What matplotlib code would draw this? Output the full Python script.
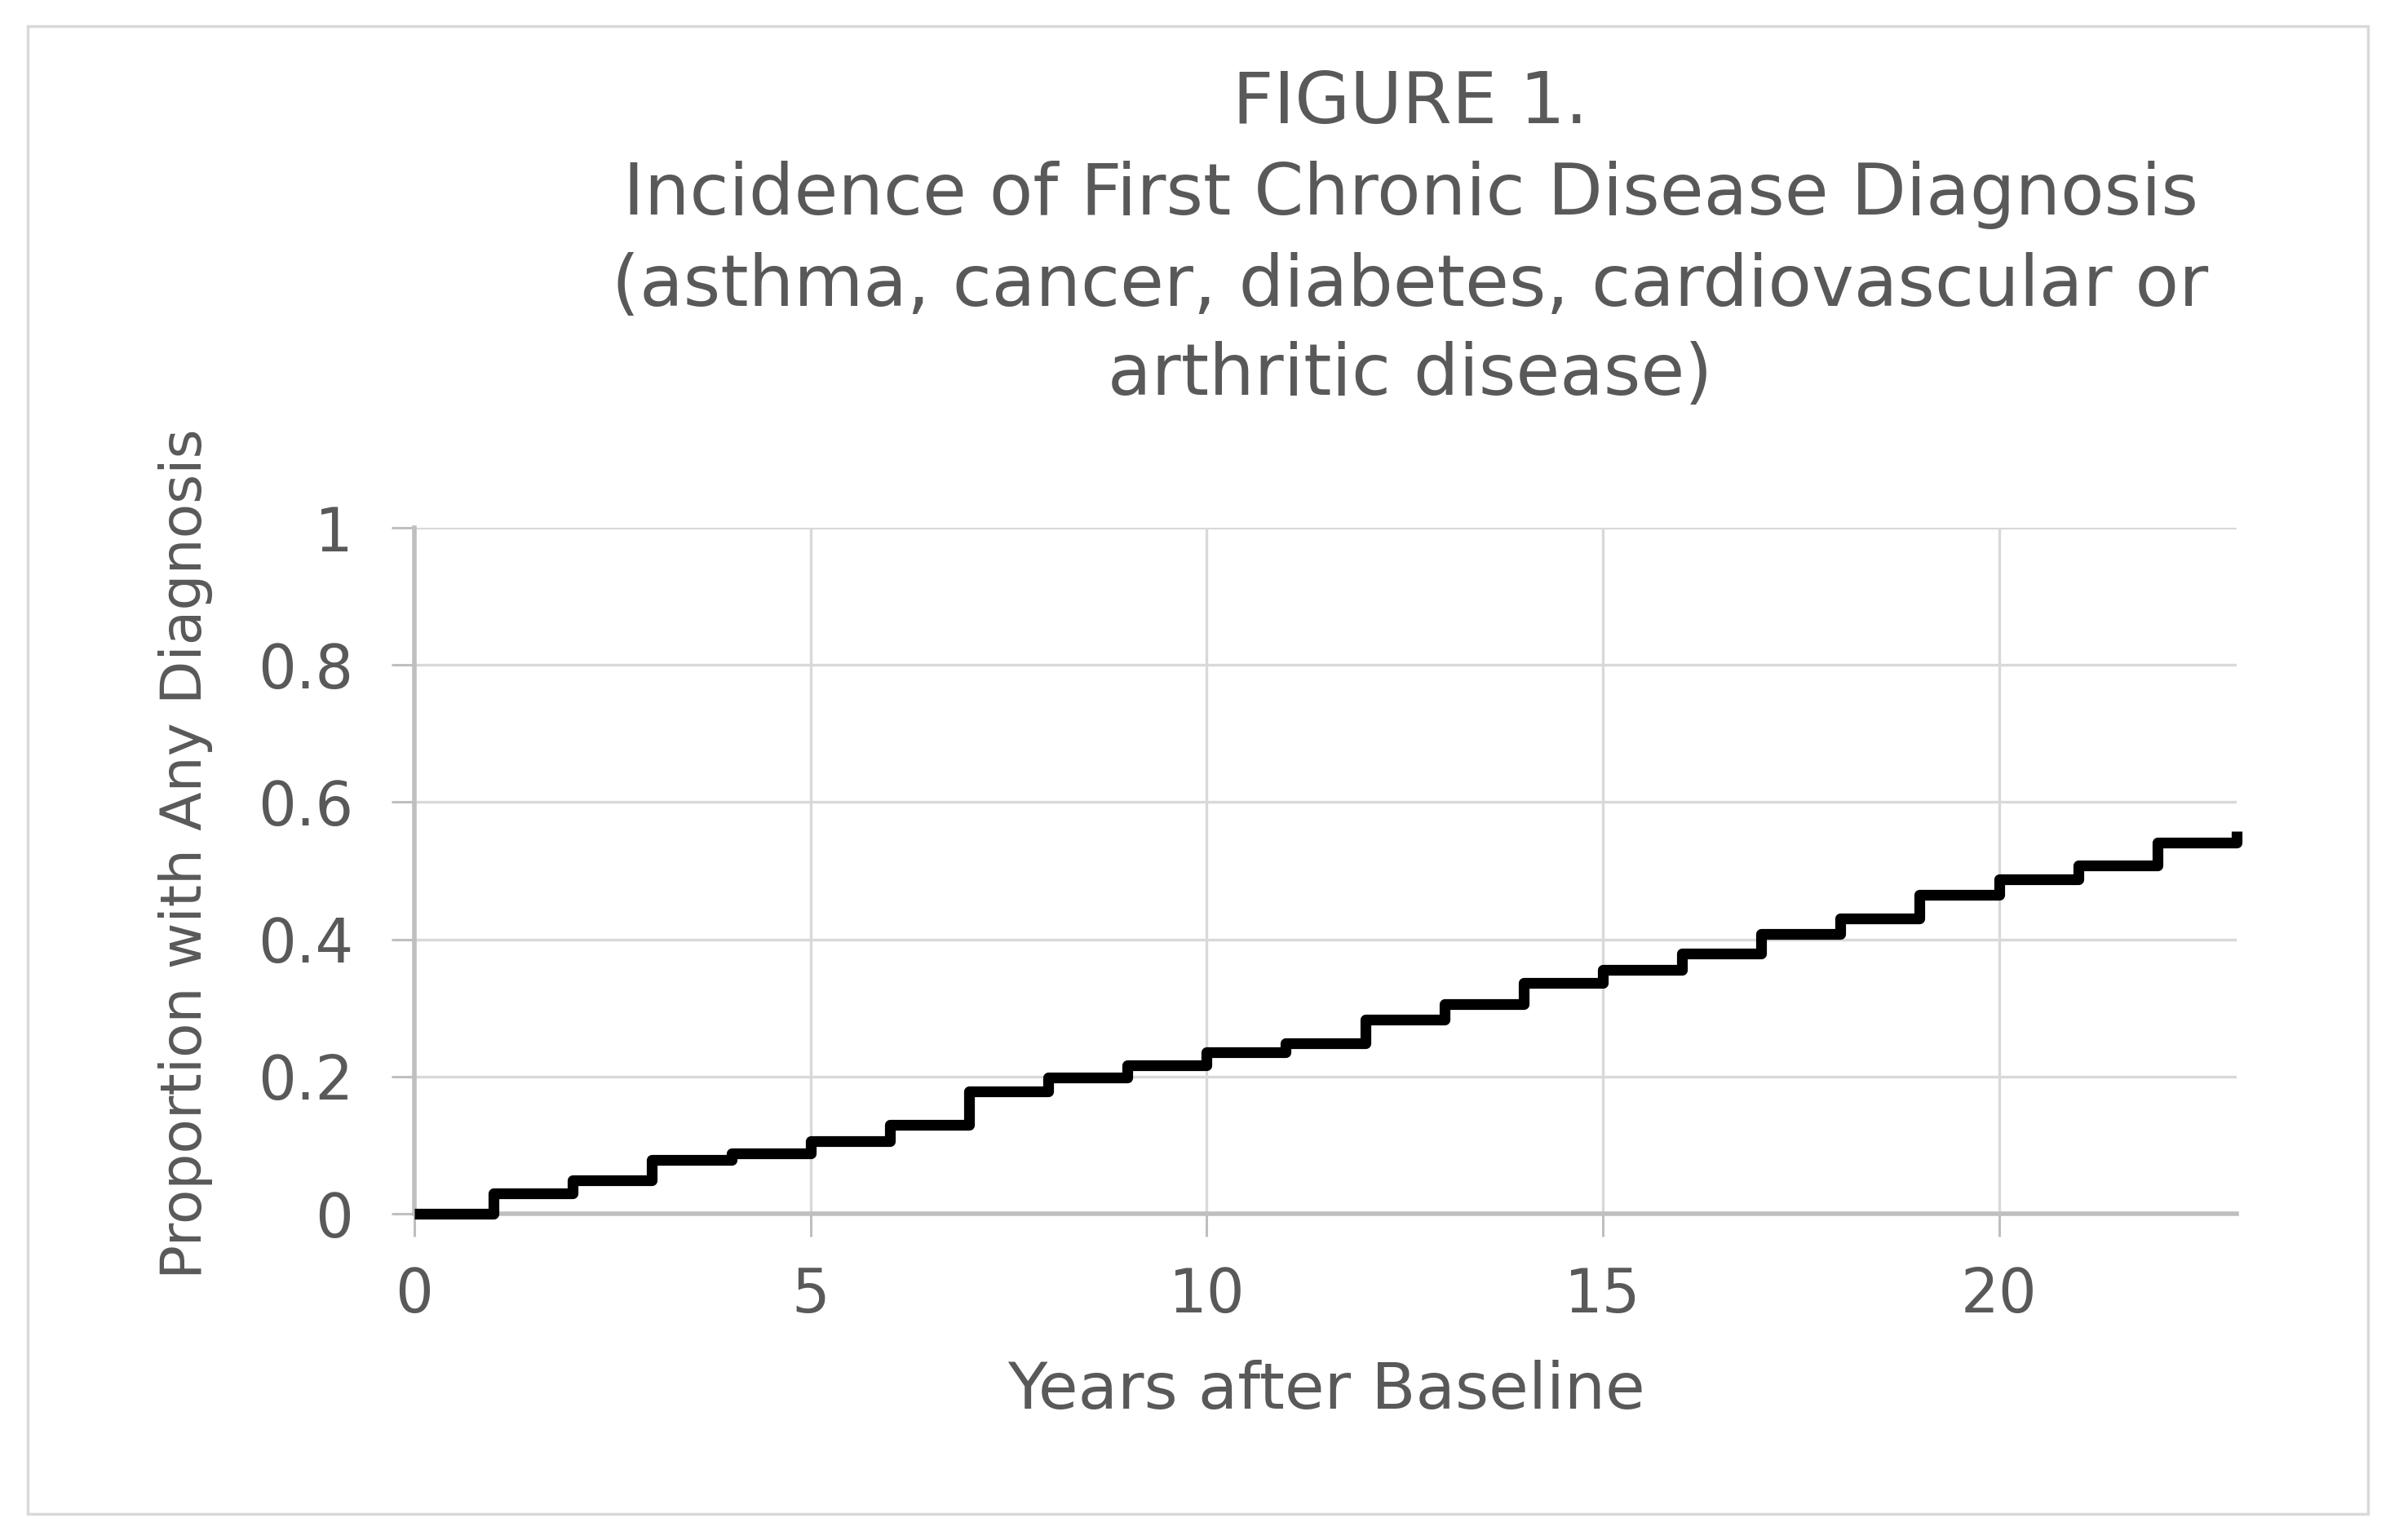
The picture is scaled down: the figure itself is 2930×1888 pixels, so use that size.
import matplotlib
matplotlib.use("Agg")
import matplotlib.pyplot as plt
from matplotlib.patches import Rectangle

# data (step curve, value held from each year to the next)
years = list(range(0, 24))
proportion = [0.000, 0.030, 0.049, 0.078, 0.088, 0.106, 0.130, 0.178,
              0.198, 0.217, 0.236, 0.249, 0.283, 0.306, 0.336, 0.355,
              0.379, 0.408, 0.431, 0.465, 0.488, 0.508, 0.541, 0.558]

title_lines = ["FIGURE 1.",
               "Incidence of First Chronic Disease Diagnosis",
               "(asthma, cancer, diabetes, cardiovascular or",
               "arthritic disease)"]
x_ticks = [0, 5, 10, 15, 20]
y_ticks = [0, 0.2, 0.4, 0.6, 0.8, 1]
y_tick_labels = ["0", "0.2", "0.4", "0.6", "0.8", "1"]

W, H = 2930, 1888
txt = "#595959"
plt.rcParams['font.family'] = ['DejaVu Sans']

fig = plt.figure(figsize=(W / 100, H / 100), dpi=100)
fig.patch.set_facecolor("white")

# outer frame
fig.patches.append(Rectangle((34 / W, 1 - 1856 / H), (2903 - 34) / W, (1856 - 32) / H,
                             transform=fig.transFigure, fill=False,
                             edgecolor="#d9d9d9", linewidth=2.5))

ax = fig.add_axes([508 / W, 1 - 1488 / H, (2742 - 508) / W, (1488 - 647) / H])
ax.step(years, proportion, where="post", color="black", linewidth=9.5,
        solid_joinstyle="round", solid_capstyle="butt", clip_on=False, zorder=3)

ax.set_xlim(0, 23)
ax.set_ylim(0, 1)
ax.set_xticks(x_ticks)
ax.set_yticks(y_ticks)
ax.set_yticklabels(y_tick_labels)
ax.grid(True, color="#d9d9d9", linewidth=2.4)
ax.set_axisbelow(True)
for s in ["top", "right"]:
    ax.spines[s].set_visible(False)
for s in ["left", "bottom"]:
    ax.spines[s].set_color("#bfbfbf")
    ax.spines[s].set_linewidth(4)
ax.tick_params(axis="both", colors="#bfbfbf", length=20, width=2.2, labelcolor=txt,
               labelsize=53)
ax.tick_params(axis="x", pad=26)
ax.tick_params(axis="y", pad=34)

for line, yc in zip(title_lines, [127, 239, 351, 460]):
    fig.text(1729 / W, 1 - yc / H, line, ha="center", va="center",
             fontsize=63, color=txt)

fig.text(1626 / W, 1 - 1705 / H, "Years after Baseline", ha="center", va="center",
         fontsize=57, color=txt)
fig.text(228 / W, 1 - 1047 / H, "Proportion with Any Diagnosis", ha="center",
         va="center", rotation=90, fontsize=50, color=txt)

fig.savefig("out.png", dpi=100, facecolor="white")
